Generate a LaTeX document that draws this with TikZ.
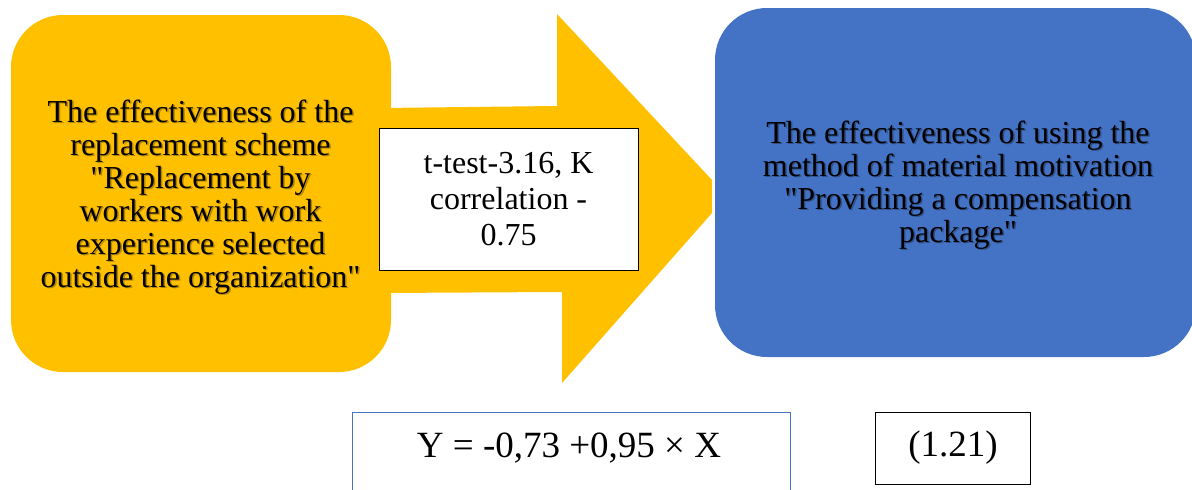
\documentclass[tikz,border=0pt]{standalone}
\usepackage{fontspec}
\setmainfont{Liberation Serif}
\newfontfamily\tnr{Liberation Serif}
\definecolor{gold}{HTML}{FFC000}
\definecolor{wblue}{HTML}{4472C4}
\begin{document}
\begin{tikzpicture}[x=1pt,y=-1pt,
  every node/.style={inner sep=0pt},
  bodytext/.style={font=\tnr\fontsize{32}{33}\selectfont, align=center},
  shade/.style={bodytext, text=black, opacity=0.30},
  bigbox/.style={rounded corners=52pt, anchor=center},
  labelbox/.style={draw=black, line width=1pt, fill=white, anchor=center, font=\tnr\fontsize{32}{36}\selectfont, align=center},
  eqtext/.style={font=\tnr\fontsize{37}{40}\selectfont}]
\useasboundingbox (0,0) rectangle (1192,490);
\clip (0,0) rectangle (1192,490);
% arrow
\fill[gold] (380,108) -- (557,106) -- (557,14) -- (712,180) -- (712,213)
  -- (562,383) -- (562,292) -- (380,293) -- cycle;
% left box
\node[bigbox, fill=gold, minimum width=380pt, minimum height=357pt] (left) at (201,193.5) {};
\node[shade] (leftsh) at (202,198.5) {The effectiveness of the\\replacement scheme\\"Replacement by\\workers with work\\experience selected\\outside the organization"};
\node[bodytext] (lefttxt) at (200.5,197) {The effectiveness of the\\replacement scheme\\"Replacement by\\workers with work\\experience selected\\outside the organization"};
% right box
\node[bigbox, fill=wblue, minimum width=481pt, minimum height=349pt] (right) at (955.5,182.5) {};
\node[shade] (rightsh) at (959.5,186.5) {The effectiveness of using the\\method of material motivation\\"Providing a compensation\\package"};
\node[bodytext] (righttxt) at (958,185) {The effectiveness of using the\\method of material motivation\\"Providing a compensation\\package"};
% label box on arrow
\node[labelbox, minimum width=259pt, minimum height=142pt] (stat) at (508.5,199) {t-test-3.16, K\\correlation -\\0.75};
% equation
\node[draw=wblue, line width=1pt, minimum width=438pt, minimum height=100pt, anchor=north west] (eqbox) at (352,412) {};
\node[eqtext] (eq) at (569,448) {Y = -0,73 +0,95 × X};
\node[draw=black, line width=1pt, minimum width=155pt, minimum height=72pt, anchor=north west] (numbox) at (875,412) {};
\node[eqtext] (num) at (953,448) {(1.21)};
\end{tikzpicture}
\end{document}
